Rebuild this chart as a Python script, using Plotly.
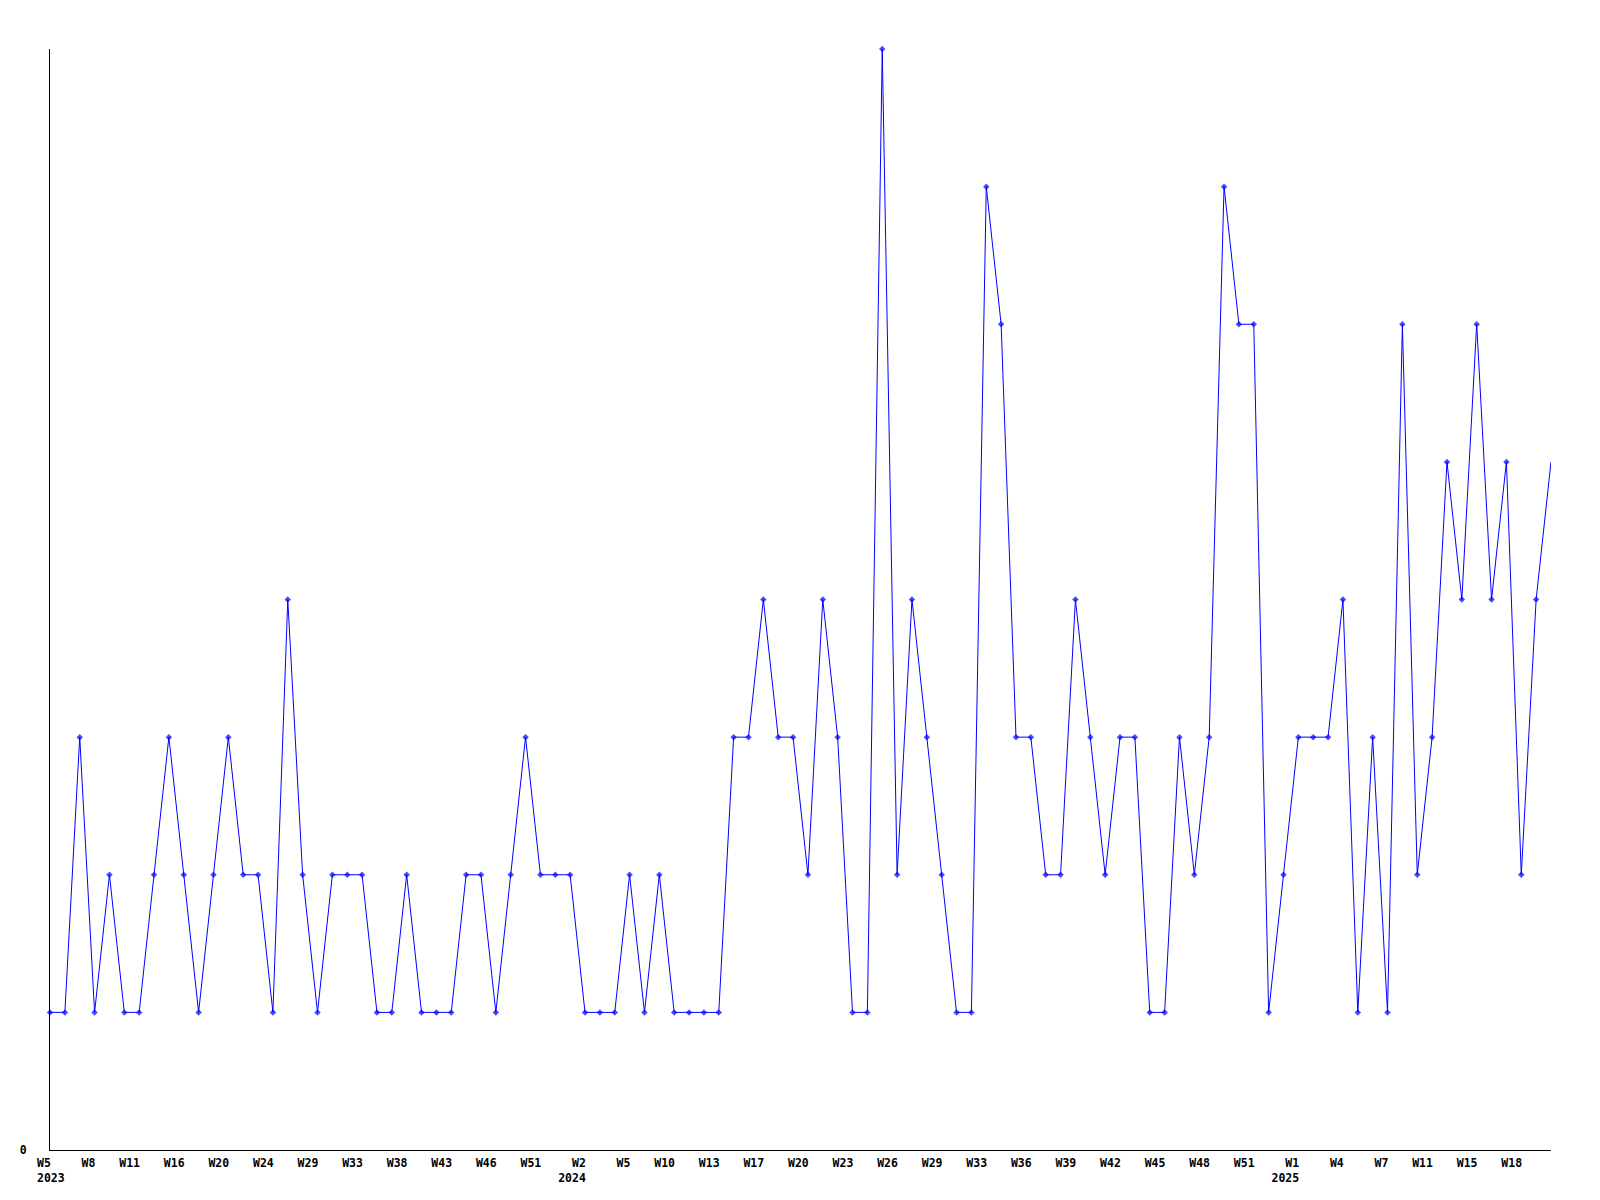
import plotly.graph_objects as go

# Weekly counts, one per plotted week (2023 W5 ... 2025)
values = [1, 1, 3, 1, 2, 1, 1, 2, 3, 2,
          1, 2, 3, 2, 2, 1, 4, 2, 1, 2,
          2, 2, 1, 1, 2, 1, 1, 1, 2, 2,
          1, 2, 3, 2, 2, 2, 1, 1, 1, 2,
          1, 2, 1, 1, 1, 1, 3, 3, 4, 3,
          3, 2, 4, 3, 1, 1, 8, 2, 4, 3,
          2, 1, 1, 7, 6, 3, 3, 2, 2, 4,
          3, 2, 3, 3, 1, 1, 3, 2, 3, 7,
          6, 6, 1, 2, 3, 3, 3, 4, 1, 3,
          1, 6, 2, 3, 5, 4, 6, 4, 5, 2,
          4, 5]

# Tick labels shown every third point
tick_weeks = ["W5", "W8", "W11", "W16", "W20", "W24", "W29", "W33", "W38", "W43",
              "W46", "W51", "W2", "W5", "W10", "W13", "W17", "W20", "W23", "W26",
              "W29", "W33", "W36", "W39", "W42", "W45", "W48", "W51", "W1", "W4",
              "W7", "W11", "W15", "W18"]
tick_years = {0: "2023", 12: "2024", 28: "2025"}
tick_step = 3

NB = "\u00a0"
x = list(range(len(values)))
tickvals = [i * tick_step for i in range(len(tick_weeks))]
ticktext = []
for k, w in enumerate(tick_weeks):
    yr = tick_years.get(k)
    if k == 0:
        line1 = NB * 4 + w + NB * (4 - len(w))
        lines = [line1] + ([NB * 4 + yr] if yr else [])
    else:
        lines = [NB * (4 - len(w)) + w] + ([yr] if yr else [])
    ticktext.append("<br>".join(lines))

sizes = [5] * (len(values) - 1) + [0]

fig = go.Figure()
fig.add_trace(go.Scatter(
    x=x, y=values, mode="lines+markers",
    line=dict(color="#0000ff", width=1),
    marker=dict(symbol="diamond", size=sizes, color="#0000ff", line=dict(width=0)),
    hoverinfo="skip", cliponaxis=False,
))

font = dict(family="DejaVu Sans Mono", size=11.5, color="black", weight="bold")

# page body has an 8px margin; figure sized so the plot area lands where the original's does
fig.update_layout(
    width=1584, height=1184,
    margin=dict(l=42, r=41, t=41, b=42, autoexpand=False),
    paper_bgcolor="white", plot_bgcolor="white",
    showlegend=False,
    font=font,
    xaxis=dict(
        range=[0, len(values) - 1], showgrid=False, zeroline=False,
        showline=True, linecolor="black", linewidth=1,
        tickmode="array", tickvals=tickvals, ticktext=ticktext,
        ticks="", tickangle=0, ticklabelshift=-13, ticklabelstandoff=2, tickfont=font,
    ),
    yaxis=dict(
        range=[0, 8], showgrid=False, zeroline=False,
        showline=True, linecolor="black", linewidth=1,
        tickmode="array", tickvals=[0], ticktext=["0"],
        ticks="", ticklabelstandoff=20, tickfont=font,
    ),
)

fig.write_html("out.html")
